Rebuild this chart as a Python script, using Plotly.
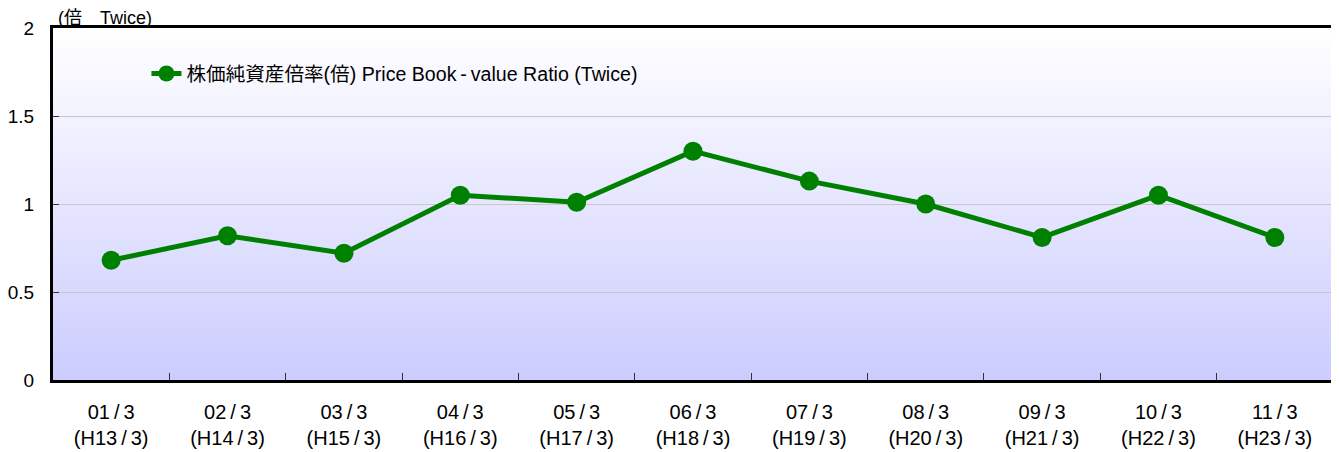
import plotly.graph_objects as go

S = "\u2009/\u2009"
categories = [f"01{S}3<br>(H13{S}3)", f"02{S}3<br>(H14{S}3)", f"03{S}3<br>(H15{S}3)",
              f"04{S}3<br>(H16{S}3)", f"05{S}3<br>(H17{S}3)", f"06{S}3<br>(H18{S}3)",
              f"07{S}3<br>(H19{S}3)", f"08{S}3<br>(H20{S}3)", f"09{S}3<br>(H21{S}3)",
              f"10{S}3<br>(H22{S}3)", f"11{S}3<br>(H23{S}3)"]
pbr = [0.68, 0.82, 0.72, 1.05, 1.01, 1.30, 1.13, 1.00, 0.81, 1.05, 0.81]
y_ticks = [0, 0.5, 1, 1.5, 2]
y_tick_labels = ["0", "0.5", "1", "1.5", "2"]
series_name = "株価純資産倍率(倍) Price Book\u2009-\u2009value Ratio (Twice)"
unit_label = "(倍　Twice)"

FONT = "Liberation Sans, Arial, Noto Sans CJK JP, sans-serif"

fig = go.Figure()
fig.add_trace(go.Scatter(
    x=categories, y=pbr, mode="lines+markers", name=series_name,
    line=dict(color="#008000", width=5),
    marker=dict(color="#008000", size=19),
))

# gradient background: white at top to lavender at bottom
shapes = []
n = 60
for i in range(n):
    t0 = i / n
    t1 = (i + 1) / n
    f = 1 - (t0 + t1) / 2  # 1 at bottom
    r = int(round(255 - (255 - 204) * f))
    g = int(round(255 - (255 - 204) * f))
    shapes.append(dict(type="rect", xref="paper", yref="paper", x0=0, x1=1,
                       y0=t0, y1=t1 + 0.002, fillcolor=f"rgb({r},{g},255)",
                       line=dict(width=0), layer="below"))

# page body has an 8px margin, so the figure is 8px smaller and margins shifted
fig.update_layout(
    width=1331, height=444,
    margin=dict(l=45, r=6, t=20, b=72),
    paper_bgcolor="white", plot_bgcolor="white",
    font=dict(family=FONT, size=19, color="#000000"),
    shapes=shapes,
    showlegend=True,
    legend=dict(x=0.073, y=0.87, xanchor="left", yanchor="middle",
                bgcolor="rgba(0,0,0,0)", font=dict(size=19.6, family=FONT)),
    xaxis=dict(type="category", range=[-0.5, 10.5], showline=True, linecolor="black",
               linewidth=3, mirror=True, ticks="inside", tickson="boundaries",
               ticklen=7, tickcolor="#333333", showgrid=False, automargin=False,
               ticklabelstandoff=12, tickfont=dict(size=20)),
    yaxis=dict(range=[0, 2], tickvals=y_ticks, ticktext=y_tick_labels,
               showline=True, linecolor="black", linewidth=3, mirror=True,
               ticks="inside", ticklen=6, tickcolor="#333333",
               showgrid=True, gridcolor="#c8c8c8", gridwidth=1,
               ticklabelstandoff=12, automargin=False,
               zeroline=False, tickfont=dict(size=19)),
    annotations=[dict(text=unit_label, xref="paper", yref="paper", x=0.002, y=1.0,
                      xanchor="left", yanchor="bottom", showarrow=False,
                      font=dict(size=18, family=FONT), yshift=-2)],
)

fig.write_html("out.html")
